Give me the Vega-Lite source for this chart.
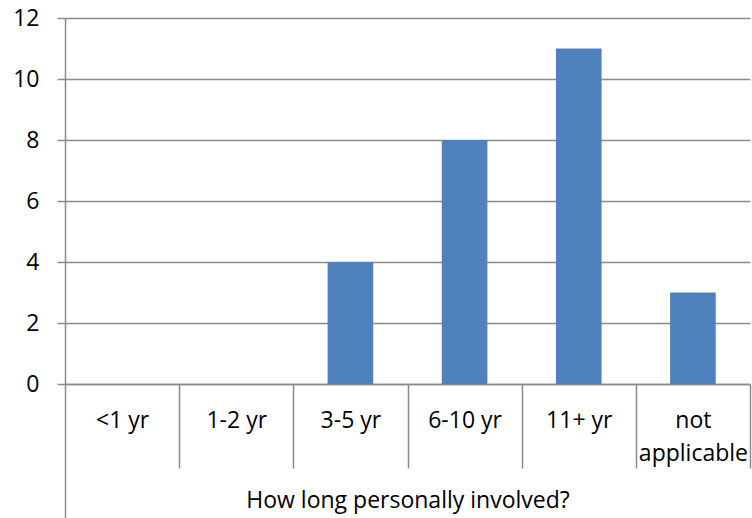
{
  "$schema": "https://vega.github.io/schema/vega-lite/v6.json",
  "width": 685,
  "height": 366,
  "autosize": {"type": "none"},
  "padding": {"left": 65, "top": 18, "right": 2, "bottom": 134},
  "background": "white",
  "config": {
    "view": {"stroke": null},
    "font": "Open Sans"
  },
  "data": {
    "values": [
      {"period": "<1 yr", "count": 0},
      {"period": "1-2 yr", "count": 0},
      {"period": "3-5 yr", "count": 4},
      {"period": "6-10 yr", "count": 8},
      {"period": "11+ yr", "count": 11},
      {"period": "not applicable", "count": 3}
    ]
  },
  "mark": {"type": "bar", "color": "#4F81BD", "width": {"band": 0.4}},
  "encoding": {
    "x": {
      "field": "period",
      "type": "nominal",
      "sort": null,
      "scale": {"paddingInner": 0, "paddingOuter": 0},
      "axis": {
        "title": "How long personally involved?",
        "titleFont": "Open Sans",
        "titleFontSize": 23,
        "titleFontWeight": "normal",
        "titleColor": "#000000",
        "titleY": 123,
        "titleBaseline": "alphabetic",
        "labelAngle": 0,
        "labelFontSize": 23,
        "labelColor": "#000000",
        "labelBaseline": "alphabetic",
        "labelLineHeight": 33,
        "labelPadding": -41,
        "labelExpr": "datum.value == 'not applicable' ? ['not', 'applicable'] : datum.label",
        "tickBand": "extent",
        "tickSize": {"condition": {"test": "datum.extra", "value": 134}, "value": 84},
        "tickColor": "#8a8a8a",
        "tickWidth": 1.5,
        "domainColor": "#8a8a8a",
        "domainWidth": 1.5,
        "labelOverlap": false
      }
    },
    "y": {
      "field": "count",
      "type": "quantitative",
      "scale": {"domain": [0, 12], "nice": false},
      "axis": {
        "title": null,
        "values": [0, 2, 4, 6, 8, 10, 12],
        "labelFontSize": 23,
        "labelColor": "#000000",
        "labelPadding": 18,
        "tickSize": 8,
        "tickColor": "#8a8a8a",
        "tickWidth": 1.5,
        "domainColor": "#8a8a8a",
        "domainWidth": 1.5,
        "grid": true,
        "gridColor": "#8a8a8a",
        "gridWidth": 1.5
      }
    }
  }
}
